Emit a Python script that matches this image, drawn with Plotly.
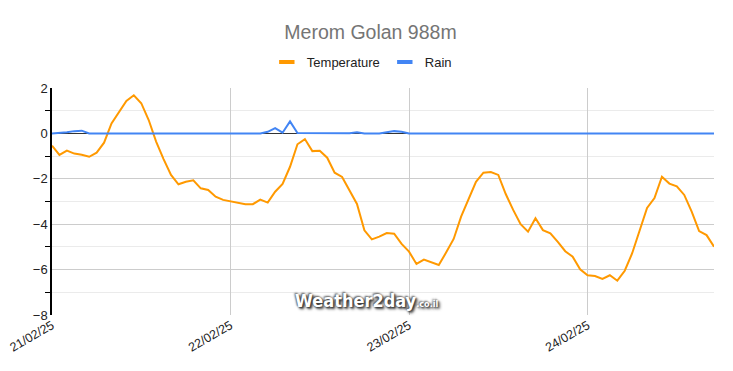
import datetime as dt
import plotly.graph_objects as go

start = dt.datetime(2025, 2, 21, 0, 0)

temperature = [
    -0.54, -0.95, -0.76, -0.89, -0.94, -1.03, -0.85, -0.41, 0.44, 0.93,
    1.43, 1.68, 1.33, 0.59, -0.36, -1.13, -1.83, -2.24, -2.13, -2.07,
    -2.42, -2.49, -2.79, -2.93, -2.99, -3.04, -3.12, -3.12, -2.92, -3.05,
    -2.57, -2.23, -1.47, -0.48, -0.25, -0.78, -0.76, -1.07, -1.73, -1.92,
    -2.49, -3.11, -4.27, -4.67, -4.55, -4.39, -4.42, -4.87, -5.21, -5.75,
    -5.56, -5.68, -5.80, -5.24, -4.65, -3.67, -2.88, -2.13, -1.73, -1.70,
    -1.83, -2.67, -3.37, -4.0, -4.33, -3.74, -4.26, -4.40, -4.78, -5.19,
    -5.43, -5.99, -6.25, -6.28, -6.41, -6.25, -6.49, -6.05, -5.28, -4.29,
    -3.28, -2.85, -1.91, -2.21, -2.33, -2.71, -3.45, -4.30, -4.48, -4.99,
]

rain = [
    0.0, 0.02, 0.05, 0.10, 0.12, 0.0, 0.0, 0.02, 0.0, 0.0,
    0.0, 0.0, 0.0, 0.0, 0.0, 0.0, 0.0, 0.0, 0.0, 0.0,
    0.0, 0.0, 0.0, 0.0, 0.0, 0.0, 0.0, 0.0, 0.0, 0.07,
    0.23, 0.03, 0.53, 0.02, 0.02, 0.02, 0.03, 0.02, 0.02, 0.02,
    0.01, 0.05, 0.0, 0.0, 0.0, 0.05, 0.10, 0.07, 0.0, 0.0,
    0.0, 0.0, 0.0, 0.0, 0.0, 0.0, 0.0, 0.0, 0.0, 0.0,
    0.0, 0.0, 0.0, 0.0, 0.0, 0.0, 0.0, 0.0, 0.0, 0.0,
    0.0, 0.0, 0.0, 0.0, 0.0, 0.0, 0.03, 0.03, 0.0, 0.0,
    0.0, 0.0, 0.0, 0.0, 0.0, 0.0, 0.0, 0.0, 0.0, 0.0,
]

series_names = ["Temperature", "Rain"]
series_colors = ["#FF9900", "#4285F4"]

times = [start + dt.timedelta(hours=i) for i in range(len(temperature))]
day_ticks = [start + dt.timedelta(days=d) for d in range(4)]
day_labels = [t.strftime("%d/%m/%y") for t in day_ticks]

fig = go.Figure()
for name, color, values in zip(series_names, series_colors, [temperature, rain]):
    fig.add_trace(go.Scatter(x=times, y=values, mode="lines", name=name,
                             line=dict(color=color, width=2), showlegend=False))
# legend entries with short thick swatches
for name, color in zip(series_names, series_colors):
    fig.add_trace(go.Scatter(x=[None], y=[None], mode="markers", name=name,
                             marker=dict(symbol="line-ew", size=11,
                                         line=dict(color=color, width=4))))

# page body has an 8px margin, so the figure is sized/offset to compensate
fig.update_layout(
    width=725, height=363,
    margin=dict(l=44, r=19, t=80, b=56, autoexpand=False),
    paper_bgcolor="white", plot_bgcolor="white",
    font=dict(family="Arial, Liberation Sans, sans-serif", size=12, color="#222222"),
    title=dict(text="Merom Golan 988m", x=0.5, xanchor="center", y=0.934, yanchor="middle",
               font=dict(size=19.5, color="#757575", family="Arial, Liberation Sans, sans-serif")),
    legend=dict(orientation="h", x=0.468, xanchor="center", y=1.1145, yanchor="middle",
                font=dict(size=13, color="#222222"), itemwidth=30, bgcolor="rgba(0,0,0,0)"),
    showlegend=True,
    xaxis=dict(
        range=[times[0], times[-1]], automargin=False,
        tickmode="array", tickvals=day_ticks, ticktext=day_labels,
        tickangle=-30, showgrid=True, gridcolor="#cccccc", gridwidth=1,
        showline=False, zeroline=False, ticks="", ticklabeloverflow="allow",
        tickfont=dict(size=12.5, color="#222222"),
    ),
    yaxis=dict(
        range=[-8, 2], dtick=2, tick0=0, automargin=False,
        showgrid=True, gridcolor="#cccccc", gridwidth=1,
        zeroline=True, zerolinecolor="#333333", zerolinewidth=1,
        showline=True, linecolor="black", linewidth=1.5,
        ticks="", tickfont=dict(size=13, color="#222222"),
        minor=dict(dtick=1, tick0=1, showgrid=True, gridcolor="#ebebeb",
                   ticks="outside", ticklen=5, tickcolor="black", tickwidth=1),
    ),
)

fig.add_annotation(
    text="<b>Weather2day</b><span style='font-size:9px'><b>.co.il</b></span>",
    xref="paper", yref="paper", x=0.475, y=0.066, xanchor="center", yanchor="middle",
    showarrow=False,
    font=dict(size=18, color="white", family="DejaVu Sans Condensed, Arial",
              shadow="1px 1px 2px #333, -1px -1px 2px #555, 2px 2px 3px #444"),
)

fig.write_html("out.html")
